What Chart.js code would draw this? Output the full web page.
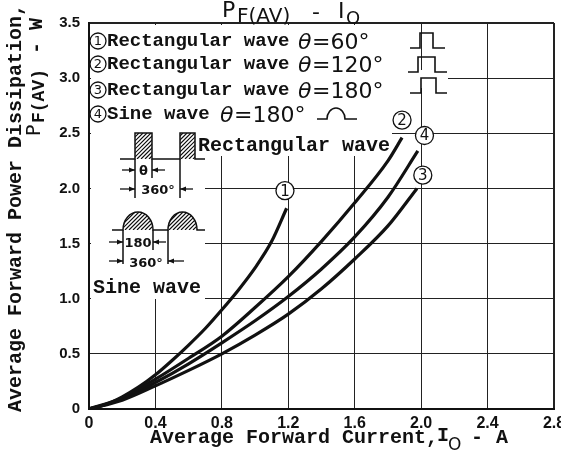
<!DOCTYPE html>
<html>
<head>
<meta charset="utf-8">
<script src="https://cdn.jsdelivr.net/npm/chart.js@4.4.1/dist/chart.umd.min.js"></script>
<style>
  html, body { margin: 0; padding: 0; background: #fff; }
  #wrap { width: 561px; height: 453px; }
</style>
</head>
<body>
<div id="wrap"><canvas id="chart" width="561" height="453"></canvas></div>
<script>
// axis ticks
const xTicks = [0, 0.4, 0.8, 1.2, 1.6, 2.0, 2.4, 2.8];
const yTicks = [0, 0.5, 1.0, 1.5, 2.0, 2.5, 3.0, 3.5];

// curve 1: rectangular wave, theta = 60 deg
const rect60I = [0, 0.1, 0.2, 0.3, 0.4, 0.5, 0.6, 0.7, 0.8, 0.9, 1.0, 1.1, 1.19];
const rect60P = [0, 0.04, 0.11, 0.2, 0.31, 0.44, 0.58, 0.73, 0.9, 1.08, 1.28, 1.52, 1.82];
// curve 2: rectangular wave, theta = 120 deg
const rect120I = [0, 0.2, 0.4, 0.6, 0.8, 1.0, 1.2, 1.4, 1.6, 1.8, 1.885];
const rect120P = [0, 0.1, 0.27, 0.46, 0.66, 0.92, 1.2, 1.52, 1.87, 2.25, 2.46];
// curve 3: rectangular wave, theta = 180 deg
const rect180I = [0, 0.2, 0.4, 0.6, 0.8, 1.0, 1.2, 1.4, 1.6, 1.8, 1.975];
const rect180P = [0, 0.08, 0.21, 0.35, 0.5, 0.67, 0.86, 1.09, 1.36, 1.66, 2.0];
// curve 4: sine wave, theta = 180 deg
const sine180I = [0, 0.2, 0.4, 0.6, 0.8, 1.0, 1.2, 1.4, 1.6, 1.8, 1.98];
const sine180P = [0, 0.09, 0.24, 0.41, 0.6, 0.8, 1.02, 1.27, 1.56, 1.92, 2.34];

// circled curve numbers, in data units
const markText = ["1", "2", "4", "3"];
const markI = [1.18, 1.885, 2.02, 2.01];
const markP = [1.98, 2.62, 2.48, 2.12];

// legend rows
const legendNum = ["1", "2", "3", "4"];
const legendName = ["Rectangular wave", "Rectangular wave", "Rectangular wave", "Sine wave"];
const legendAngle = ["=60°", "=120°", "=180°", "=180°"];

const MONO = '"Liberation Mono", "DejaVu Sans Mono", monospace';
const SANS = '"DejaVu Sans", "Liberation Sans", sans-serif';

function pts(xs, ys) {
  return xs.map((x, i) => ({ x: x, y: ys[i] }));
}

function circled(ctx, cx, cy, r, txt, size) {
  ctx.save();
  ctx.beginPath();
  ctx.arc(cx, cy, r, 0, Math.PI * 2);
  ctx.fillStyle = "#fff";
  ctx.fill();
  ctx.lineWidth = 1.3;
  ctx.strokeStyle = "#111";
  ctx.stroke();
  ctx.fillStyle = "#111";
  ctx.font = size + "px " + SANS;
  ctx.textAlign = "center";
  ctx.textBaseline = "middle";
  ctx.fillText(txt, cx, cy + 1);
  ctx.restore();
}

function arrow(ctx, x1, x2, y) {
  // arrow from x1 pointing at x2
  const d = x2 > x1 ? 1 : -1;
  ctx.beginPath();
  ctx.moveTo(x1, y);
  ctx.lineTo(x2, y);
  ctx.stroke();
  ctx.beginPath();
  ctx.moveTo(x2, y);
  ctx.lineTo(x2 - d * 6, y - 2.5);
  ctx.lineTo(x2 - d * 6, y + 2.5);
  ctx.closePath();
  ctx.fill();
}

function hatch(ctx, pathFn, x0, y0, x1, y1) {
  ctx.save();
  ctx.beginPath();
  pathFn();
  ctx.clip();
  ctx.lineWidth = 1.2;
  ctx.beginPath();
  for (let s = x0 - (y1 - y0); s < x1 + 4; s += 4) {
    ctx.moveTo(s, y1);
    ctx.lineTo(s + (y1 - y0), y0);
  }
  ctx.stroke();
  ctx.restore();
}

// hide the grid behind the insets, as in the original sheet
const coverPlugin = {
  id: "cover",
  beforeDatasetsDraw(chart) {
    const ctx = chart.ctx;
    ctx.save();
    ctx.fillStyle = "#fff";
    ctx.fillRect(91, 25, 114, 274);   // sine / rect wave insets
    ctx.fillRect(91, 25, 323, 87);    // legend block
    ctx.fillRect(414, 70, 34, 18);    // 3.0 line start
    ctx.fillRect(205, 112, 187, 44);  // "Rectangular wave" text
    ctx.restore();
  }
};

const notesPlugin = {
  id: "notes",
  afterDraw(chart) {
    const ctx = chart.ctx;
    const xs = chart.scales.x, ys = chart.scales.y;
    ctx.save();
    ctx.fillStyle = "#111";
    ctx.strokeStyle = "#111";
    ctx.textBaseline = "alphabetic";

    // title
    ctx.font = "22px " + SANS;
    ctx.fillText("P", 222, 17);
    ctx.font = "20px " + SANS;
    ctx.fillText("F(AV)", 237, 22);
    ctx.font = "22px " + SANS;
    ctx.fillText("-", 312, 19);
    ctx.fillText("I", 338, 18);
    ctx.font = "18px " + SANS;
    ctx.fillText("O", 346, 24);

    // x axis title
    ctx.font = "bold 20px " + MONO;
    ctx.fillText("Average Forward Current,", 150, 443);
    ctx.fillText("I", 437, 441);
    ctx.font = "17px " + SANS;
    ctx.fillText("O", 448, 450);
    ctx.font = "bold 20px " + MONO;
    ctx.fillText("-", 471, 443);
    ctx.fillText("A", 496, 443);

    // y axis title (two lines)
    ctx.save();
    ctx.translate(21, 412);
    ctx.rotate(-Math.PI / 2);
    ctx.font = "bold 20px " + MONO;
    ctx.fillText("Average Forward Power Dissipation,", 0, 0);
    ctx.restore();
    ctx.save();
    ctx.translate(42, 136);
    ctx.rotate(-Math.PI / 2);
    ctx.font = "19px " + SANS;
    ctx.fillText("P", 0, -2);
    ctx.font = "bold 18px " + MONO;
    ctx.fillText("F(AV)", 13, 2);
    ctx.font = "bold 20px " + MONO;
    ctx.fillText("- W", 82, 0);
    ctx.restore();

    // legend
    const base = [48, 71, 97, 121];
    const angX = [298, 298, 298, 220];
    for (let i = 0; i < 4; i++) {
      circled(ctx, 98, base[i] - 7, 8, legendNum[i], 13);
      ctx.fillStyle = "#111";
      ctx.font = "bold 19px " + MONO;
      ctx.fillText(legendName[i], 107, base[i] - 2);
      ctx.font = "italic 22px " + SANS;
      ctx.fillText("θ", angX[i], base[i] + 1);
      ctx.font = "22px " + SANS;
      ctx.fillText(legendAngle[i], angX[i] + 14, base[i] + 1);
    }
    ctx.lineWidth = 1.6;
    const pulse = [[410, 420, 433, 445, 48, 33], [408, 418, 435, 447, 72, 57], [410, 421, 436, 447, 93, 78]];
    pulse.forEach(p => {
      ctx.beginPath();
      ctx.moveTo(p[0], p[4]); ctx.lineTo(p[1], p[4]); ctx.lineTo(p[1], p[5]);
      ctx.lineTo(p[2], p[5]); ctx.lineTo(p[2], p[4]); ctx.lineTo(p[3], p[4]);
      ctx.stroke();
    });
    ctx.beginPath();
    ctx.moveTo(317, 119); ctx.lineTo(327, 119);
    ctx.ellipse(336, 119, 9, 11, 0, Math.PI, Math.PI * 2);
    ctx.lineTo(357, 119);
    ctx.stroke();

    // rectangular wave inset
    ctx.lineWidth = 1.5;
    ctx.beginPath();
    ctx.moveTo(120, 159); ctx.lineTo(135, 159); ctx.lineTo(135, 133); ctx.lineTo(152, 133);
    ctx.lineTo(152, 159); ctx.lineTo(180, 159); ctx.lineTo(180, 133); ctx.lineTo(195, 133);
    ctx.lineTo(195, 159); ctx.lineTo(205, 159);
    ctx.stroke();
    hatch(ctx, () => { ctx.rect(135, 133, 17, 26); ctx.rect(180, 133, 15, 26); }, 135, 133, 195, 159);
    ctx.beginPath();
    ctx.moveTo(135, 159); ctx.lineTo(135, 198);
    ctx.moveTo(152, 159); ctx.lineTo(152, 178);
    ctx.moveTo(180, 159); ctx.lineTo(180, 198);
    ctx.stroke();
    ctx.lineWidth = 1.3;
    arrow(ctx, 122, 135, 170);
    arrow(ctx, 165, 152, 170);
    arrow(ctx, 120, 135, 189);
    arrow(ctx, 193, 180, 189);
    ctx.font = "bold 13px " + SANS;
    ctx.textAlign = "center";
    ctx.fillText("θ", 143.5, 175);
    ctx.fillText("360°", 158, 194);
    ctx.textAlign = "left";
    ctx.font = "bold 20px " + MONO;
    ctx.fillText("Rectangular wave", 198, 151);

    // sine wave inset
    ctx.lineWidth = 1.5;
    const dome = (cx) => { ctx.moveTo(cx - 15, 230); ctx.ellipse(cx, 230, 15, 18, 0, Math.PI, Math.PI * 2); ctx.closePath(); };
    ctx.beginPath();
    ctx.moveTo(112, 230); ctx.lineTo(123, 230);
    ctx.ellipse(138, 230, 15, 18, 0, Math.PI, Math.PI * 2);
    ctx.lineTo(168, 230);
    ctx.ellipse(182.5, 230, 14.5, 18, 0, Math.PI, Math.PI * 2);
    ctx.lineTo(205, 230);
    ctx.stroke();
    hatch(ctx, () => { dome(138); dome(182.5); }, 123, 212, 197, 230);
    ctx.beginPath();
    ctx.moveTo(123, 230); ctx.lineTo(123, 264);
    ctx.moveTo(153, 230); ctx.lineTo(153, 250);
    ctx.moveTo(168, 230); ctx.lineTo(168, 264);
    ctx.stroke();
    ctx.lineWidth = 1.3;
    arrow(ctx, 109, 123, 242);
    arrow(ctx, 166, 153, 242);
    arrow(ctx, 109, 123, 261);
    arrow(ctx, 184, 168, 261);
    ctx.font = "bold 13px " + SANS;
    ctx.textAlign = "center";
    ctx.fillText("180", 138, 247);
    ctx.fillText("360°", 146, 267);
    ctx.textAlign = "left";
    ctx.font = "bold 20px " + MONO;
    ctx.fillText("Sine wave", 93, 293);

    // circled curve numbers
    for (let i = 0; i < markText.length; i++) {
      circled(ctx, xs.getPixelForValue(markI[i]), ys.getPixelForValue(markP[i]), 9, markText[i], 15);
    }
    ctx.restore();
  }
};

function series(xs, ys) {
  return {
    data: pts(xs, ys),
    borderColor: "#111",
    borderWidth: 3.2,
    pointRadius: 0,
    fill: false,
    cubicInterpolationMode: "monotone"
  };
}

new Chart(document.getElementById("chart"), {
  type: "line",
  data: {
    datasets: [
      series(rect60I, rect60P),
      series(rect120I, rect120P),
      series(rect180I, rect180P),
      series(sine180I, sine180P)
    ]
  },
  options: {
    responsive: false,
    devicePixelRatio: 1,
    animation: false,
    events: [],
    layout: { padding: { top: 23, right: 7, left: 0, bottom: 0 } },
    plugins: { legend: { display: false }, tooltip: { enabled: false } },
    scales: {
      x: {
        type: "linear",
        min: 0,
        max: 2.8,
        afterBuildTicks(s) { s.ticks = xTicks.map(v => ({ value: v })); },
        afterFit(s) { s.height = 44; s.paddingLeft = 0; s.paddingRight = 0; },
        ticks: {
          padding: 5,
          color: "#111",
          maxRotation: 0,
          autoSkip: false,
          font: { family: "Liberation Sans", weight: "bold", size: 16 },
          callback: v => (v === 0 ? "0" : v.toFixed(1))
        },
        grid: {
          drawTicks: false,
          color: "#222",
          lineWidth: c => (c.tick && c.tick.value === 2.8 ? 2 : 1)
        },
        border: { color: "#111", width: 2 }
      },
      y: {
        min: 0,
        max: 3.5,
        afterBuildTicks(s) { s.ticks = yTicks.map(v => ({ value: v })); },
        afterFit(s) { s.width = 89; s.paddingTop = 0; s.paddingBottom = 0; },
        ticks: {
          padding: 9,
          color: "#111",
          autoSkip: false,
          font: { family: "Liberation Sans", weight: "bold", size: 15 },
          callback: v => (v === 0 ? "0" : v.toFixed(1))
        },
        grid: {
          drawTicks: false,
          color: "#222",
          lineWidth: c => (c.tick && c.tick.value === 3.5 ? 2 : 1)
        },
        border: { color: "#111", width: 2 }
      }
    }
  },
  plugins: [coverPlugin, notesPlugin]
});
</script>
</body>
</html>
